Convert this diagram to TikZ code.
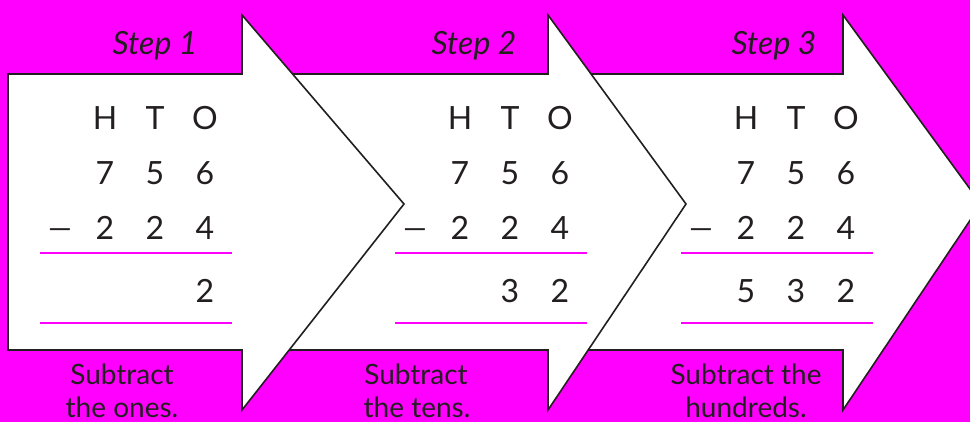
\documentclass[tikz,border=0pt]{standalone}
\usepackage{fontspec}
\setmainfont{Lato}
\definecolor{bg}{HTML}{FF00FF}
\definecolor{ink}{HTML}{231F20}
\begin{document}
\begin{tikzpicture}[x=1pt,y=-1pt,
  arrowshape/.style={fill=white, draw=ink, line width=1.6pt, line join=miter},
  digit/.style={text=ink, font=\fontsize{32}{32}\selectfont, anchor=base, inner sep=0pt},
  minussign/.style={text=ink, font=\fontsize{30}{30}\selectfont, anchor=base, inner sep=0pt},
  steplabel/.style={text=ink, font=\itshape\fontsize{32}{32}\selectfont, anchor=base, inner sep=0pt},
  caption/.style={text=ink, font=\fontsize{28}{28}\selectfont, anchor=base, inner sep=0pt},
  rulerline/.style={draw=bg, line width=1.2pt}]
\fill[bg] (0,0) rectangle (970,422);
\useasboundingbox (0,0) rectangle (970,422);
% arrows, back to front
\draw[arrowshape] (570,74) -- (843,74) -- (843,15) -- (981,204) -- (843,410) -- (843,350) -- (570,350) -- cycle;
\draw[arrowshape] (270,74) -- (548,74) -- (548,15) -- (686,204) -- (548,410) -- (548,350) -- (270,350) -- cycle;
\draw[arrowshape] (8,74) -- (242,74) -- (242,15) -- (404,204) -- (242,410) -- (242,350) -- (8,350) -- cycle;
% step labels
\node[steplabel] (step1) at (155,55) {Step 1};
\node[steplabel] (step2) at (474,55) {Step 2};
\node[steplabel] (step3) at (774,55) {Step 3};
% columns
\foreach \o/\n in {0/1,355/2,641/3} {
  \node[digit] (h\n) at (105+\o,130) {H};
  \node[digit] (t\n) at (155+\o,130) {T};
  \node[digit] (u\n) at (205+\o,130) {O};
  \node[digit] (a\n) at (105+\o,185) {7};
  \node[digit] (b\n) at (155+\o,185) {5};
  \node[digit] (c\n) at (205+\o,185) {6};
  \node[minussign] (m\n) at (60+\o,239) {—};
  \node[digit] (d\n) at (105+\o,240) {2};
  \node[digit] (e\n) at (155+\o,240) {2};
  \node[digit] (f\n) at (205+\o,240) {4};
  \coordinate (r1a\n) at (40+\o,253);
  \coordinate (r1b\n) at (232+\o,253);
  \coordinate (r2a\n) at (40+\o,323);
  \coordinate (r2b\n) at (232+\o,323);
  \draw[rulerline] (r1a\n) -- (r1b\n);
  \draw[rulerline] (r2a\n) -- (r2b\n);
}
% results
\node[digit] (res1o) at (205,302) {2};
\node[digit] (res2t) at (510,302) {3};
\node[digit] (res2o) at (560,302) {2};
\node[digit] (res3h) at (746,302) {5};
\node[digit] (res3t) at (796,302) {3};
\node[digit] (res3o) at (846,302) {2};
% captions
\node[caption] (cap1a) at (122,384) {Subtract};
\node[caption] (cap1b) at (122,417) {the ones.};
\node[caption] (cap2a) at (416,384) {Subtract};
\node[caption] (cap2b) at (417,417) {the tens.};
\node[caption] (cap3a) at (746,384) {Subtract the};
\node[caption] (cap3b) at (746,417) {hundreds.};
\end{tikzpicture}
\end{document}
